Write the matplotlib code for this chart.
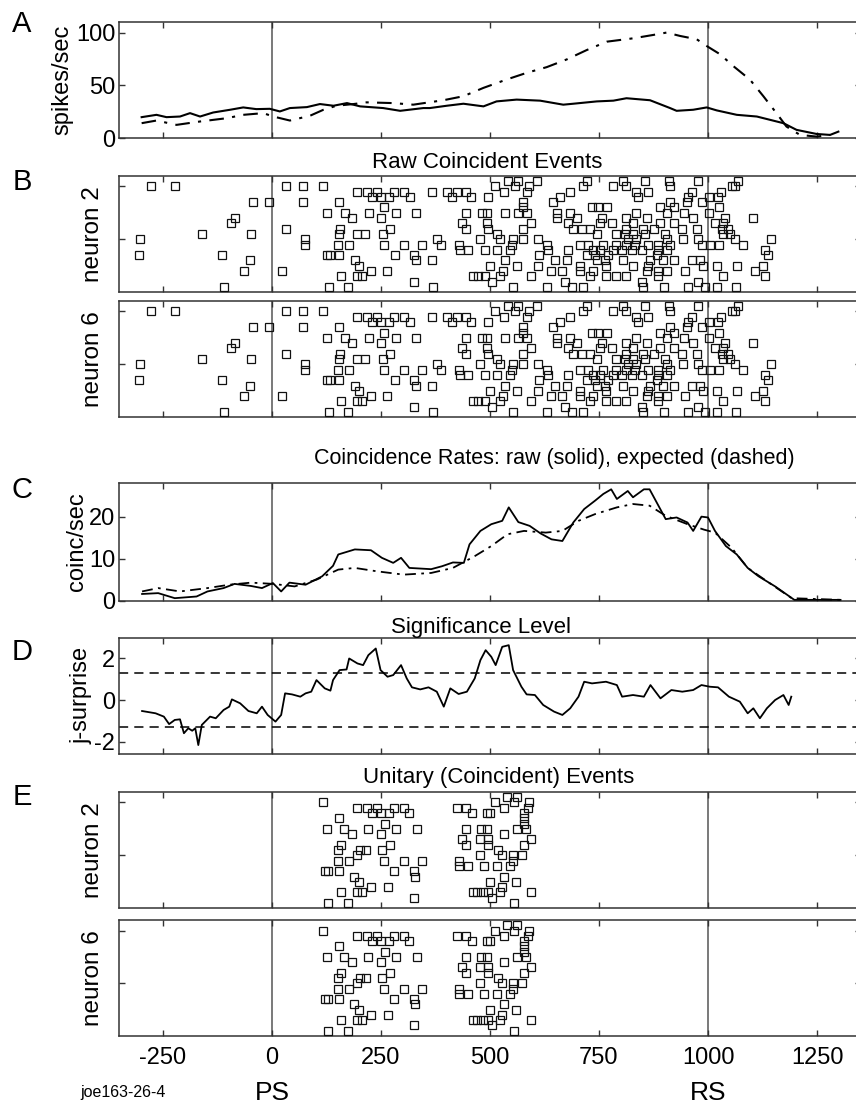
import matplotlib
matplotlib.use("Agg")
import matplotlib.pyplot as plt

plt.rcParams['font.family'] = ['Liberation Sans', 'DejaVu Sans']
plt.rcParams['axes.unicode_minus'] = False

# ---------------- data ----------------
# Panel A: firing rates (spikes/sec)
a_solid_t = [-299, -265, -242, -211, -188, -165, -135, -96, -66, -36, -5, 18, 41, 80, 110, 141, 172, 202, 255, 294, 347,
             362, 401, 439, 485, 515, 561, 615, 668, 691, 745, 783, 813, 867, 913, 928, 966, 997, 1020, 1066, 1112, 1173,
             1203, 1249, 1280, 1299]
a_solid = [20, 22.2, 20, 20.6, 23.8, 20.6, 24.4, 27, 29.2, 27.6, 27.9, 25.4, 28.6, 29.5, 32.4, 30.8, 33.3, 30.2, 28.6, 26, 28.6,
           28.6, 30.8, 32.7, 30.2, 34.9, 36.6, 35.6, 31.8, 32.7, 34.9, 35.6, 37.9, 36, 28.6, 26, 27, 29.2, 26.4, 22.2, 20.6, 14.3,
           8, 4.1, 3.2, 6.3]
a_dash_t = [-299, -265, -219, -165, -104, -66, -20, 3, 41, 87, 118, 148, 187, 217, 278, 324, 393, 439, 485, 538, 584, 630,
            676, 722, 768, 829, 875, 905, 936, 974, 997, 1028, 1058, 1096, 1127, 1157, 1180, 1211, 1249, 1280]
a_dash = [14.3, 16.8, 12.7, 15.9, 19, 22.2, 23.8, 20.6, 16.8, 21.3, 27, 30.8, 32.4, 34, 33.3, 31.8, 36, 39.8, 47.7, 55.6,
          61.9, 67.3, 74.6, 83.5, 91.4, 94.6, 97.8, 100, 96.8, 93.7, 87.3, 79.4, 68.3, 55.6, 39.8, 23.8, 11.1, 3.2, 1.6, 3.2]

# Panel B: raw coincident events, times (ms) per trial 1..21
raw_times_by_trial = [
    [-110, 131, 174, 370, 553, 630, 687, 714, 852, 899, 953, 993, 1020, 1064],                      # 1
    [326, 504, 672, 848, 976],                                                                        # 2
    [158, 194, 206, 462, 473, 488, 523, 595, 729, 767, 790, 813, 886, 1034, 1131],                    # 3
    [-64, 22, 227, 264, 530, 641, 664, 706, 737, 859, 886, 905, 947, 1108],                           # 4
    [200, 500, 561, 611, 706, 767, 829, 863, 989, 1021, 1066, 1125],                                  # 5
    [-50, 190, 330, 366, 534, 649, 677, 745, 764, 806, 867, 897, 921, 963, 982],                      # 6
    [-306, -115, 127, 133, 154, 282, 326, 613, 722, 741, 771, 882, 1138],                             # 7
    [431, 450, 488, 515, 546, 634, 680, 737, 752, 783, 802, 825, 848, 886, 905, 1131],                # 8
    [76, 152, 177, 258, 303, 343, 387, 430, 550, 630, 706, 725, 760, 790, 813, 833, 863, 886, 913,
     986, 1005, 1026, 1081],                                                                          # 9
    [-303, 76, 378, 477, 524, 553, 575, 611, 817, 836, 905, 942, 978, 1062, 1144],                    # 10
    [-161, -49, 154, 194, 213, 254, 515, 745, 790, 810, 829, 855, 901, 1035, 1051],                   # 11
    [32, 157, 271, 446, 496, 576, 691, 710, 729, 813, 851, 875, 940, 974, 1031, 1047],                # 12
    [-95, 435, 492, 595, 680, 752, 779, 829, 890, 921, 1016, 1035],                                   # 13
    [-85, 183, 249, 654, 699, 756, 813, 859, 966, 1039, 1104],                                        # 14
    [127, 167, 222, 284, 330, 446, 481, 492, 534, 565, 584, 654, 683, 836, 905, 944, 1003],           # 15
    [258, 576, 733, 748, 769, 890, 921, 1026],                                                        # 16
    [-43, -7, 70, 154, 576, 645, 913, 951, 986],                                                      # 17
    [229, 250, 269, 317, 412, 456, 496, 660, 840, 953, 1003, 1024],                                   # 18
    [196, 219, 240, 280, 303, 366, 401, 424, 446, 532, 584, 683, 836, 863, 963, 1029],                # 19
    [-278, -222, 31, 70, 116, 511, 557, 590, 714, 783, 812, 913, 1054, 1062],                         # 20
    [542, 565, 607, 723, 804, 855, 911, 976, 1068],                                                   # 21
]

# Panel C: coincidence rates (coinc/sec)
c_raw_t = [-298, -261, -223, -173, -148, -111, -86, -48, -23, 2, 21, 40, 77, 115, 140, 152, 190, 227, 252, 278, 296, 315,
           365, 390, 415, 440, 453, 478, 503, 528, 543, 565, 591, 616, 641, 666, 691, 716, 741, 760, 778, 791, 816, 828,
           853, 866, 878, 903, 928, 953, 966, 985, 1000, 1016, 1041, 1066, 1091, 1116, 1154, 1198, 1304]
c_raw = [1.6, 1.8, 0.6, 1.0, 2.2, 3.0, 4.0, 3.5, 3.0, 4.2, 2.2, 4.3, 3.8, 5.8, 8.3, 11, 12.2, 12, 10.2, 9, 10.2, 7.8,
         7.5, 8.2, 9.1, 9, 13.4, 16.6, 18.2, 19, 22.2, 18.7, 17.8, 16, 14.6, 14.2, 18.6, 21.8, 23.8, 25.4, 26.5, 24.2,
         26.1, 24.6, 26.5, 26.5, 24.2, 19.4, 19.8, 18.6, 16.6, 20, 19.8, 16.6, 13, 11, 7.8, 5.8, 3.4, 0.2, 0.2]
c_exp_t = [-298, -261, -211, -148, -98, -48, 2, 52, 102, 152, 190, 240, 302, 365, 415, 465, 503, 540, 578, 628, 666, 703,
           741, 791, 828, 866, 903, 953, 991, 1016, 1054, 1091, 1141, 1192, 1304]
c_exp = [2.2, 3.0, 2.2, 3.0, 3.8, 4.3, 4.0, 3.4, 5, 7.4, 7.8, 7, 6.2, 6.6, 7.8, 10.6, 13, 15.8, 16.6, 16.2, 16.6, 19,
         20.6, 22.2, 23, 22.6, 20.2, 18.2, 16.9, 16.2, 12.6, 7.8, 4.2, 0.6, 0.2]

# Panel D: joint-surprise
d_t = [-298, -267, -248, -236, -223, -211, -202, -192, -183, -176, -169, -161, -142, -129, -111, -98, -92, -73, -54, -35,
       -23, -10, 8, 21, 30, 46, 65, 77, 90, 102, 121, 134, 140, 155, 171, 177, 196, 209, 221, 238, 249, 265, 278, 296,
       309, 321, 340, 359, 378, 394, 409, 428, 447, 465, 478, 490, 503, 513, 528, 543, 553, 572, 584, 603, 622, 647,
       666, 684, 703, 716, 734, 766, 791, 803, 828, 853, 868, 891, 916, 941, 966, 985, 1004, 1023, 1048, 1073, 1091,
       1104, 1119, 1135, 1154, 1173, 1185, 1191]
d_js = [-0.53, -0.64, -0.80, -1.16, -0.96, -0.93, -1.6, -1.36, -1.48, -1.36, -2.17, -1.2, -0.8, -0.88, -0.48, -0.32,
        0.03, -0.16, -0.53, -0.64, -0.32, -0.72, -1.04, -0.72, 0.32, 0.27, 0.16, 0.32, 0.40, 0.96, 0.56, 0.45, 0.96,
        1.44, 1.47, 2.0, 1.76, 1.68, 2.16, 2.48, 1.44, 1.12, 1.2, 1.68, 1.04, 0.61, 0.51, 0.61, 0.40, -0.32, 0.56, 0.29,
        0.40, 1.04, 1.92, 2.4, 2.08, 1.68, 2.56, 2.64, 1.44, 0.64, 0.27, 0.24, -0.24, -0.56, -0.72, -0.40, 0.16, 0.88,
        0.80, 0.88, 0.72, 0.16, 0.24, 0.16, 0.72, 0.08, 0.48, 0.40, 0.48, 0.72, 0.64, 0.61, 0.16, -0.08, -0.64, -0.40,
        -0.88, -0.40, 0.0, 0.24, -0.24, 0.16]
d_threshold = 1.28

# Panel E: unitary events, times (ms) per trial 1..21
ue_times_by_trial = [
    [129, 174, 554],                                  # 1
    [326, 504],                                       # 2
    [158, 194, 206, 460, 471, 483, 496, 523, 593],    # 3
    [227, 265, 527],                                  # 4
    [200, 500, 560],                                  # 5
    [187, 328, 531],                                  # 6
    [122, 129, 154, 280, 326],                        # 7
    [430, 450, 486, 515, 546],                        # 8
    [151, 177, 258, 303, 343, 430, 553],              # 9
    [194, 476, 527, 552, 573],                        # 10
    [152, 202, 216, 253, 519],                        # 11
    [158, 271, 446, 496, 578],                        # 12
    [435, 476, 496, 594],                             # 13
    [183, 249, 533],                                  # 14
    [125, 166, 221, 284, 332, 446, 479, 492, 561, 583],  # 15
    [259, 578],                                       # 16
    [154, 578],                                       # 17
    [229, 250, 269, 315, 458, 492, 500, 578],         # 18
    [196, 217, 240, 280, 303, 425, 446, 533, 588],    # 19
    [118, 511, 556, 590],                             # 20
    [540, 563],                                       # 21
]

x_ticks = [-250, 0, 250, 500, 750, 1000, 1250]
event_lines = [0, 1000]
event_names = ["PS", "RS"]

# ---------------- layout ----------------
W, H = 856, 1105
fig = plt.figure(figsize=(W / 100, H / 100), dpi=100)
XL, XR = 119.4, 860.6
XLIM = (-350, 1350)
SPINE = '#333333'


def add_ax(top, bottom):
    return fig.add_axes([XL / W, 1 - bottom / H, (XR - XL) / W, (bottom - top) / H])


def style(ax, labels_x=False):
    ax.set_xlim(*XLIM)
    ax.set_xticks(x_ticks)
    ax.tick_params(direction='in', top=True, right=True, length=4.5, width=1, color=SPINE,
                   labelsize=17, pad=3)
    if not labels_x:
        ax.tick_params(labelbottom=False)
    for s in ax.spines.values():
        s.set_color(SPINE)
        s.set_linewidth(1.1)
    for e in event_lines:
        ax.axvline(e, color='#555555', lw=1.1, zorder=1)


def flatten(by_trial):
    ts, rs = [], []
    for i, row in enumerate(by_trial):
        ts.extend(row)
        rs.extend([i + 1] * len(row))
    return ts, rs


def raster(ax, by_trial):
    ts, rs = flatten(by_trial)
    ax.plot(ts, rs, 's', ms=6.0, mfc='none', mec='#111111', mew=0.9, zorder=3)
    ax.set_ylim(0, 22)
    ax.set_yticks([10, 20])
    ax.set_yticklabels([])


# A
axA = add_ax(22, 138.3)
style(axA)
axA.plot(a_solid_t, a_solid, '-', color='black', lw=1.5, zorder=3)
axA.plot(a_dash_t, a_dash, color='black', lw=1.5, dashes=(7, 4, 1.5, 4), zorder=3)
axA.set_ylim(0, 110)
axA.set_yticks([0, 50, 100])
axA.set_ylabel('spikes/sec', fontsize=17, labelpad=2)

# B
axB2 = add_ax(175.7, 292.3)
style(axB2)
raster(axB2, raw_times_by_trial)
axB2.set_ylabel('neuron 2', fontsize=17.5, labelpad=8)
axB6 = add_ax(300.7, 417.3)
style(axB6)
raster(axB6, raw_times_by_trial)
axB6.set_ylabel('neuron 6', fontsize=17.5, labelpad=8)

# C
axC = add_ax(483, 600.7)
style(axC)
axC.plot(c_raw_t, c_raw, '-', color='black', lw=1.3, zorder=3)
axC.plot(c_exp_t, c_exp, color='black', lw=1.3, dashes=(6, 3, 1.5, 3), zorder=3)
axC.set_ylim(0, 28)
axC.set_yticks([0, 10, 20])
axC.set_ylabel('coinc/sec', fontsize=17, labelpad=1)

# D
axD = add_ax(637.7, 754)
style(axD)
axD.plot(d_t, d_js, '-', color='black', lw=1.3, zorder=3)
for th in (d_threshold, -d_threshold):
    axD.axhline(th, color='black', lw=1.1, dashes=(6, 4), zorder=2)
axD.set_ylim(-2.6, 3.0)
axD.set_yticks([-2, 0, 2])
axD.set_ylabel('j-surprise', fontsize=17, labelpad=1)

# E
axE2 = add_ax(791.7, 908.3)
style(axE2)
raster(axE2, ue_times_by_trial)
axE2.set_ylabel('neuron 2', fontsize=17.5, labelpad=8)
axE6 = add_ax(920, 1036)
style(axE6, labels_x=True)
raster(axE6, ue_times_by_trial)
axE6.set_ylabel('neuron 6', fontsize=17.5, labelpad=8)
axE6.tick_params(axis='x', pad=8)

# titles
def ftext(x, y, s, **kw):
    fig.text(x / W, 1 - y / H, s, ha=kw.pop('ha', 'center'), va=kw.pop('va', 'center'), **kw)

ftext(487, 162, 'Raw Coincident Events', fontsize=16)
ftext(554, 458, 'Coincidence Rates: raw (solid), expected (dashed)', fontsize=15.5)
ftext(481, 627, 'Significance Level', fontsize=16)
ftext(499, 777, 'Unitary (Coincident) Events', fontsize=16)

# panel letters
for letter, y in zip("ABCDE", [24, 182, 490, 652, 797]):
    ftext(22, y, letter, fontsize=21)

# event labels
for e, name in zip(event_lines, event_names):
    ftext(272 + e * 0.436, 1093, name, fontsize=19)
ftext(123, 1093, 'joe163-26-4', fontsize=11.5)

fig.savefig('out.png', dpi=100)
